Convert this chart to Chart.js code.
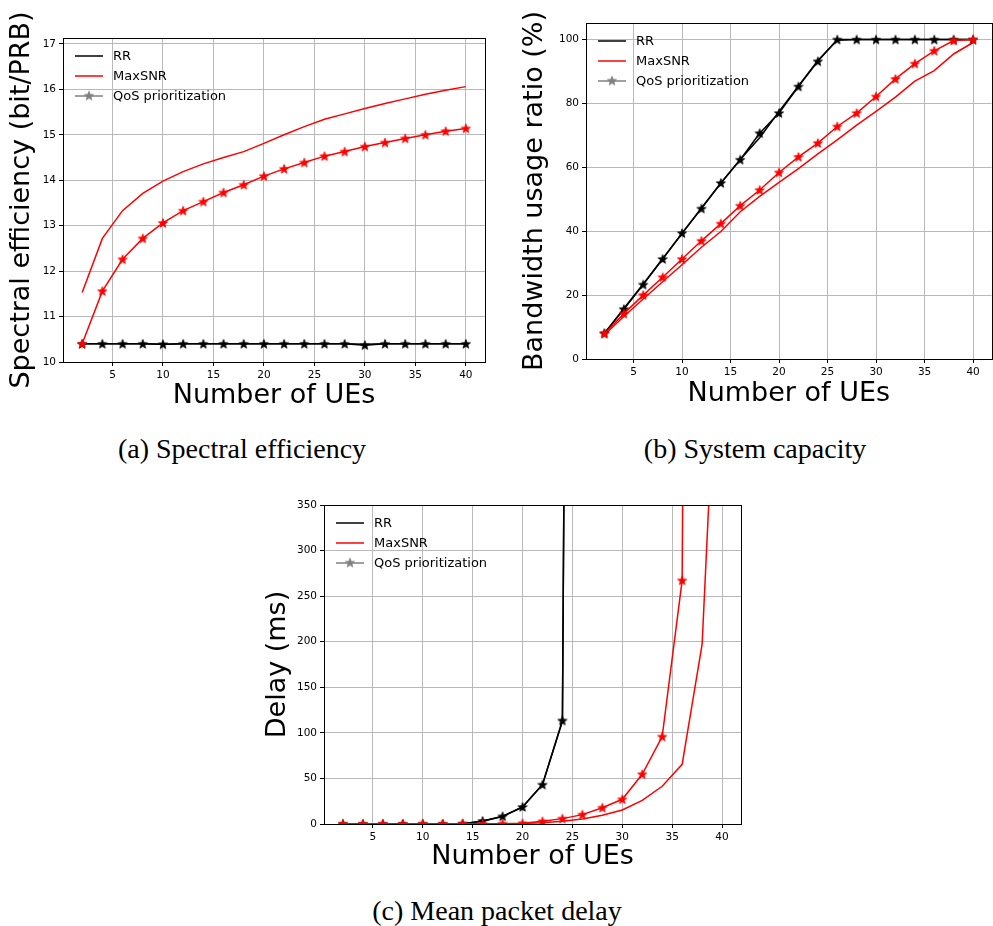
<!DOCTYPE html>
<html>
<head>
<meta charset="utf-8">
<script src="https://cdn.jsdelivr.net/npm/chart.js@4.4.0/dist/chart.umd.min.js"></script>
<style>
  body { margin: 0; width: 993px; height: 926px; overflow: hidden; background: #fff; position: relative; }
  canvas { position: absolute; }
  .caption { position: absolute; font-family: "Liberation Serif", serif; font-size: 28px; line-height: 1; color: #000; white-space: nowrap; transform: translateX(-50%); }
</style>
</head>
<body>
<canvas id="chartA" width="500" height="420" style="left:0;top:0"></canvas>
<canvas id="chartB" width="498" height="420" style="left:500px;top:0"></canvas>
<canvas id="chartC" width="510" height="400" style="left:250px;top:480px"></canvas>
<div class="caption" style="left:242px;top:435px">(a) Spectral efficiency</div>
<div class="caption" style="left:755px;top:435px">(b) System capacity</div>
<div class="caption" style="left:497px;top:897px">(c) Mean packet delay</div>
<script>
// x values (number of UEs) shared by all panels
const numUEs = [2, 4, 6, 8, 10, 12, 14, 16, 18, 20, 22, 24, 26, 28, 30, 32, 34, 36, 38, 40];
const xTicks = [5, 10, 15, 20, 25, 30, 35, 40];
const legendLabels = ['RR', 'MaxSNR', 'QoS prioritization'];

// (a) spectral efficiency (bit/PRB)
const seRR = [10.40, 10.40, 10.40, 10.40, 10.39, 10.40, 10.40, 10.40, 10.40, 10.40, 10.40, 10.40, 10.40, 10.40, 10.39, 10.40, 10.40, 10.40, 10.40, 10.40];
const seMaxSNR = [11.53, 12.72, 13.33, 13.71, 13.98, 14.19, 14.36, 14.50, 14.63, 14.81, 15.00, 15.18, 15.34, 15.46, 15.58, 15.69, 15.79, 15.89, 15.98, 16.06];
const seRRQoS = [10.40, 10.40, 10.40, 10.40, 10.39, 10.40, 10.40, 10.40, 10.40, 10.40, 10.40, 10.40, 10.40, 10.40, 10.37, 10.40, 10.40, 10.40, 10.40, 10.40];
const seMaxSNRQoS = [10.40, 11.56, 12.26, 12.72, 13.06, 13.33, 13.53, 13.73, 13.90, 14.09, 14.25, 14.39, 14.53, 14.63, 14.74, 14.83, 14.92, 15.00, 15.08, 15.14];
const seTicks = [10, 11, 12, 13, 14, 15, 16, 17];

// (b) bandwidth usage ratio (%)
const bwRR = [8.0, 15.8, 23.5, 31.4, 39.3, 47.3, 55.0, 62.5, 69.3, 77.5, 85.5, 93.5, 99.8, 100, 100, 100, 100, 100, 100, 100];
const bwMaxSNR = [7.6, 13.3, 18.8, 24.2, 29.5, 35.0, 39.9, 46.1, 50.9, 55.3, 59.6, 64.2, 68.6, 73.2, 77.5, 82.0, 87.0, 90.3, 95.5, 99.1];
const bwRRQoS = [8.1, 15.6, 23.3, 31.3, 39.4, 47.1, 55.1, 62.4, 70.7, 77.0, 85.3, 93.2, 100, 100, 100, 100, 100, 100, 100, 100];
const bwMaxSNRQoS = [7.9, 14.2, 20.0, 25.6, 31.3, 37.0, 42.4, 48.0, 52.9, 58.4, 63.3, 67.6, 72.8, 77.0, 82.2, 87.7, 92.5, 96.5, 99.7, 100];
const bwTicks = [0, 20, 40, 60, 80, 100];

// (c) mean packet delay (ms)
const dlRR = [0.1, 0.1, 0.1, 0.1, 0.1, 0.1, 0.4, 3.0, 8.3, 18.6, 43.3, 113, 3500, 6800, 9900, 13000, 16000, 19000, 22000, 25000];
const dlMaxSNR = [0.2, 0.2, 0.2, 0.2, 0.2, 0.2, 0.2, 0.2, 0.3, 0.6, 1.5, 3.0, 5.5, 9.5, 15.4, 26, 41.4, 65.5, 197, 660];
const dlRRQoS = [0.1, 0.1, 0.1, 0.1, 0.1, 0.1, 0.4, 3.3, 8.4, 18.7, 43.2, 113.5, 3500, 6800, 9900, 13000, 16000, 19000, 22000, 25000];
const dlMaxSNRQoS = [0.3, 0.3, 0.3, 0.3, 0.3, 0.3, 0.3, 0.3, 0.4, 0.8, 2.9, 5.9, 10.3, 17.9, 27.1, 54.6, 95.9, 267.3, 3600, 7000];
const dlTicks = [0, 50, 100, 150, 200, 250, 300, 350];

const GRID = '#b9b9b9';

// filled star marker, like matplotlib '*'
function makeStar(color) {
    const c = document.createElement('canvas');
    c.width = 12; c.height = 12;
    const g = c.getContext('2d');
    g.beginPath();
    for (let i = 0; i < 10; i++) {
        const r = i % 2 === 0 ? 4.8 : 2.0;
        const a = -Math.PI / 2 + i * Math.PI / 5;
        g.lineTo(6 + r * Math.cos(a), 6.4 + r * Math.sin(a));
    }
    g.closePath();
    g.fillStyle = color;
    g.fill();
    g.strokeStyle = color;
    g.lineWidth = 0.8;
    g.stroke();
    return c;
}
const starBlack = makeStar('#000000');
const starRed = makeStar('#ff0000');
const starGray = makeStar('#808080');

// legend drawn inside the plot, top-left, and the box around the plot
const frameAndLegend = {
    id: 'frameAndLegend',
    afterDraw(chart) {
        const ctx = chart.ctx;
        const a = chart.chartArea;
        ctx.save();
        ctx.strokeStyle = '#000';
        ctx.lineWidth = 1;
        ctx.strokeRect(Math.round(a.left) + 0.5, Math.round(a.top) + 0.5, Math.round(a.right - a.left), Math.round(a.bottom - a.top));

        const colors = ['#000000', '#ff0000', '#808080'];
        const x0 = a.left + 12;
        legendLabels.forEach((label, i) => {
            const y = a.top + 18 + i * 20;
            ctx.strokeStyle = colors[i];
            ctx.lineWidth = 1.5;
            ctx.beginPath();
            ctx.moveTo(x0, y);
            ctx.lineTo(x0 + 28, y);
            ctx.stroke();
            if (i === 2) ctx.drawImage(starGray, x0 + 14 - 6, y - 6.4);
            ctx.fillStyle = '#000';
            ctx.font = '13px "DejaVu Sans"';
            ctx.textBaseline = 'middle';
            ctx.fillText(label, x0 + 38, y + 1);
        });
        ctx.restore();
    }
};

function lineSet(label, data, color, star, order) {
    return {
        label: label,
        data: data,
        borderColor: color,
        backgroundColor: color,
        borderWidth: 1.5,
        pointStyle: star || false,
        pointRadius: star ? 5 : 0,
        tension: 0,
        order: order
    };
}

function makePanel(id, p) {
    new Chart(document.getElementById(id), {
        type: 'line',
        data: {
            labels: numUEs,
            datasets: [
                lineSet('RR', p.rr, '#000000', null, 3),
                lineSet('MaxSNR', p.maxsnr, '#ff0000', null, 2),
                lineSet('RR QoS prioritization', p.rrQos, '#000000', starBlack, 1),
                lineSet('MaxSNR QoS prioritization', p.maxsnrQos, '#ff0000', starRed, 0)
            ]
        },
        options: {
            responsive: false,
            animation: false,
            events: [],
            layout: { padding: { top: p.padTop, right: p.padRight, left: 0, bottom: 0 } },
            plugins: { legend: { display: false }, tooltip: { enabled: false } },
            scales: {
                x: {
                    type: 'linear',
                    min: 0.1,
                    max: 41.9,
                    afterBuildTicks: axis => { axis.ticks = xTicks.map(v => ({ value: v })); },
                    afterFit: axis => { axis.height = p.xHeight; },
                    grid: { color: GRID, lineWidth: 1, tickColor: '#000', tickLength: 4 },
                    border: { color: '#000', width: 1 },
                    ticks: { color: '#000', font: { family: 'DejaVu Sans', size: 10.5 }, padding: 3, maxRotation: 0 },
                    title: { display: true, text: 'Number of UEs', color: '#000', font: { family: 'DejaVu Sans', size: 27 }, padding: { top: 0, bottom: p.xTitlePad } }
                },
                y: {
                    min: p.yMin,
                    max: p.yMax,
                    afterBuildTicks: axis => { axis.ticks = p.yTicks.map(v => ({ value: v })); },
                    afterFit: axis => { axis.width = p.yWidth; },
                    grid: { color: GRID, lineWidth: 1, tickColor: '#000', tickLength: 4 },
                    border: { color: '#000', width: 1 },
                    ticks: { color: '#000', font: { family: 'DejaVu Sans', size: 10.5 }, padding: 3 },
                    title: { display: true, text: p.yTitle, color: '#000', font: { family: 'DejaVu Sans', size: 27 }, padding: { top: p.yTitlePad, bottom: 0 } }
                }
            }
        },
        plugins: [frameAndLegend]
    });
}

// the line datasets need x values, so pair them up with numUEs
function pts(arr) { return arr.map((v, i) => ({ x: numUEs[i], y: v })); }

makePanel('chartA', {
    rr: pts(seRR), maxsnr: pts(seMaxSNR), rrQos: pts(seRRQoS), maxsnrQos: pts(seMaxSNRQoS),
    yMin: 10, yMax: 17.13, yTicks: seTicks, yTitle: 'Spectral efficiency (bit/PRB)',
    padTop: 38, padRight: 15, yWidth: 63, xHeight: 58, yTitlePad: 6, xTitlePad: 8
});
makePanel('chartB', {
    rr: pts(bwRR), maxsnr: pts(bwMaxSNR), rrQos: pts(bwRRQoS), maxsnrQos: pts(bwMaxSNRQoS),
    yMin: 0, yMax: 105.2, yTicks: bwTicks, yTitle: 'Bandwidth usage ratio (%)',
    padTop: 23, padRight: 0, yWidth: 86, xHeight: 61, yTitlePad: 19, xTitlePad: 10
});
makePanel('chartC', {
    rr: pts(dlRR), maxsnr: pts(dlMaxSNR), rrQos: pts(dlRRQoS), maxsnrQos: pts(dlMaxSNRQoS),
    yMin: 0, yMax: 350, yTicks: dlTicks, yTitle: 'Delay (ms)',
    padTop: 25, padRight: 19, yWidth: 74, xHeight: 56, yTitlePad: 12, xTitlePad: 7
});
</script>
</body>
</html>
